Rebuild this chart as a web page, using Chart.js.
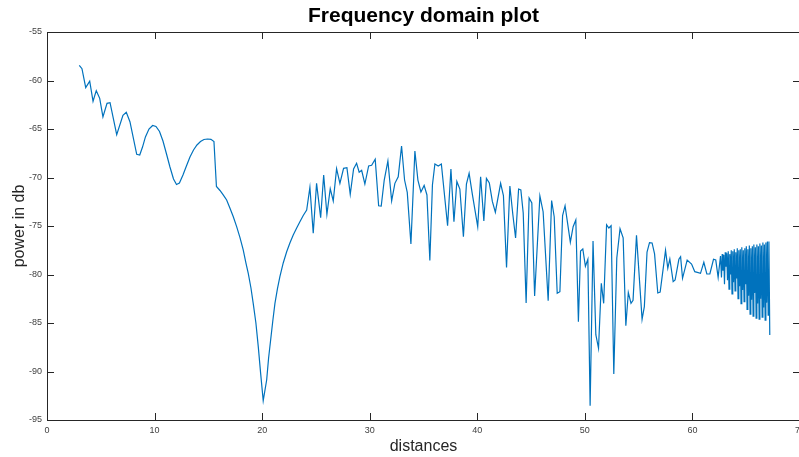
<!DOCTYPE html>
<html><head><meta charset="utf-8">
<script src="https://cdn.jsdelivr.net/npm/chart.js@4.4.0/dist/chart.umd.min.js"></script>
<style>html,body{margin:0;padding:0;overflow:hidden;background:#fff}#wrap{width:802px;height:457px}</style>
</head><body><div id="wrap"><canvas id="c" width="802" height="457"></canvas></div>
<script>
const distances = [
3.00,3.25,3.60,3.97,4.28,4.58,4.90,5.20,5.58,5.86,6.48,7.06,7.37,7.71,8.34,8.62,8.88,9.15,9.48,9.82,
10.13,10.46,10.78,11.11,11.43,11.76,12.04,12.31,12.64,12.96,13.29,13.62,13.94,14.27,14.59,14.92,15.24,15.52,15.75,16.08,
16.38,16.70,17.01,17.31,17.63,17.94,18.24,18.49,18.71,18.96,19.17,19.42,19.64,19.86,20.10,20.42,20.60,20.79,21.00,21.19,
21.42,21.65,21.96,22.28,22.58,22.89,23.21,23.51,23.82,24.14,
24.44,24.75,25.06,25.44,25.72,26.02,26.33,26.61,26.92,27.23,27.57,27.88,28.19,28.50,28.78,29.02,29.25,29.55,29.90,30.18,
30.51,30.83,31.07,31.35,31.69,32.04,32.34,32.65,32.96,33.24,33.49,33.83,34.20,34.48,34.76,35.06,35.32,35.59,35.83,36.06,
36.37,36.66,37.24,37.55,37.83,38.10,38.38,38.71,38.99,39.24,39.55,40.04,40.31,40.61,40.85,41.12,41.40,41.68,42.17,42.43,
42.72,43.03,43.31,43.56,43.84,44.05,44.27,44.54,44.82,45.07,45.33,45.82,46.12,46.59,46.91,47.15,47.43,47.68,47.93,48.16,
48.65,48.91,49.16,49.40,49.60,49.81,50.05,50.28,50.49,50.76,51.02,51.27,51.53,51.75,52.02,52.23,52.44,52.69,52.97,53.27,
53.56,53.81,54.04,54.29,54.48,54.80,55.32,55.53,55.78,56.01,56.25,56.48,56.78,57.00,57.50,57.71,57.90,58.21,58.39,58.74,
58.90,59.08,59.51,59.92,60.22,60.75,61.06,61.34,61.62,61.96,62.17,62.39,62.61,
62.70,62.77,62.84,62.91,62.98,63.05,63.12,63.19,63.26,63.33,63.40,63.47,63.54,63.61,63.68,63.75,63.82,63.89,63.96,64.03,
64.10,64.17,64.24,64.31,64.38,64.45,64.52,64.59,64.66,64.73,64.80,64.87,64.94,65.01,65.08,65.15,65.22,65.29,65.36,65.43,
65.50,65.57,65.64,65.71,65.78,65.85,65.92,65.99,66.06,66.13,66.20,66.27,66.34,66.41,66.48,66.55,66.62,66.69,66.76,66.83,
66.90,66.97,67.04,67.11,67.19
];
const powerDb = [
-58.43,-58.78,-60.74,-60.08,-62.14,-61.05,-61.84,-63.76,-62.35,-62.29,-65.59,-63.59,-63.28,-64.25,-67.61,-67.68,-66.86,-65.82,-65.00,-64.64,
-64.74,-65.26,-66.24,-67.58,-68.92,-70.15,-70.72,-70.57,-69.74,-68.81,-67.89,-67.16,-66.65,-66.29,-66.08,-66.03,-66.06,-66.29,-70.93,-71.34,
-71.80,-72.32,-73.18,-74.02,-75.07,-76.19,-77.47,-78.81,-79.88,-81.39,-82.97,-85.00,-87.44,-90.19,-93.01,-90.88,-88.61,-86.75,-84.69,-82.97,
-81.49,-80.23,-78.81,-77.65,-76.75,-75.93,-75.21,-74.56,-73.92,-73.35,
-71.01,-75.75,-70.60,-74.14,-69.74,-73.79,-71.15,-72.42,-69.09,-70.60,-69.05,-68.99,-71.73,-69.12,-68.54,-69.46,-69.26,-70.67,-68.81,-68.74,
-68.12,-72.91,-72.94,-70.26,-68.30,-72.42,-70.60,-69.92,-66.75,-70.26,-71.53,-76.86,-67.27,-70.26,-71.49,-70.82,-71.80,-78.56,-70.77,-68.61,
-68.81,-68.61,-74.97,-69.12,-74.56,-70.41,-71.19,-76.10,-70.67,-69.57,-71.80,-75.07,-69.92,-74.48,-70.10,-70.57,-72.47,-73.58,-70.60,-71.86,
-79.28,-70.88,-73.87,-76.24,-71.19,-71.29,-73.66,-82.94,-72.11,-72.63,-82.22,-71.91,-73.53,-82.70,-72.37,-74.04,-81.94,-81.77,-73.92,-72.91,
-76.67,-75.07,-74.38,-84.87,-77.58,-77.37,-79.15,-78.43,-93.53,-76.55,-86.21,-87.61,-80.91,-82.97,-74.87,-75.21,-74.97,-90.26,-78.30,-75.28,
-76.22,-85.28,-81.86,-82.97,-82.66,-75.96,-84.62,-83.32,-77.68,-76.72,-76.75,-77.87,-81.91,-81.82,-77.51,-79.36,-78.40,-80.74,-80.57,-78.43,
-78.16,-80.39,-78.51,-78.92,-79.71,-79.88,-78.74,-79.95,-79.95,-78.43,-78.51,-80.29,-78.09,
-80.3,-77.9,-79.6,-78.0,-81.0,-77.7,-79.2,-77.8,-80.6,-77.6,-81.5,-77.9,-80.0,-77.5,-82.0,-77.6,-80.8,-77.4,-81.7,-77.7,
-80.4,-77.3,-82.5,-77.5,-81.2,-77.4,-83.0,-77.2,-81.6,-77.5,-82.8,-77.3,-81.0,-77.1,-83.6,-77.4,-82.2,-77.0,-84.1,-77.3,
-82.6,-77.1,-84.3,-76.9,-81.9,-77.2,-84.5,-76.9,-83.0,-77.1,-84.6,-76.8,-82.5,-77.0,-84.4,-76.7,-83.4,-76.9,-84.7,-76.7,
-82.9,-76.6,-84.2,-76.6,-86.24
];
const xTicks = [0,10,20,30,40,50,60,70];
const yTicks = [-95,-90,-85,-80,-75,-70,-65,-60,-55];
const titleText = 'Frequency domain plot';
const xLabel = 'distances';
const yLabel = 'power in db';

const axisColor = '#262626';
const boxPlugin = {
  id: 'boxTicks',
  afterDatasetsDraw(chart) {
    const {ctx, chartArea: {left, right, top, bottom}, scales: {x, y}} = chart;
    const L = 7;
    ctx.save();
    ctx.strokeStyle = axisColor;
    ctx.lineWidth = 1;
    ctx.beginPath();
    ctx.rect(Math.round(left) + 0.5, Math.round(top) + 0.5, Math.round(right - left), Math.round(bottom - top));
    xTicks.forEach(v => {
      const p = Math.round(x.getPixelForValue(v)) + 0.5;
      ctx.moveTo(p, bottom); ctx.lineTo(p, bottom - L);
      ctx.moveTo(p, top); ctx.lineTo(p, top + L);
    });
    yTicks.forEach(v => {
      const p = Math.round(y.getPixelForValue(v)) + 0.5;
      ctx.moveTo(left, p); ctx.lineTo(left + L, p);
      ctx.moveTo(right, p); ctx.lineTo(right - L, p);
    });
    ctx.stroke();
    ctx.restore();
  }
};

new Chart(document.getElementById('c'), {
  type: 'line',
  data: {
    datasets: [{
      data: distances.map((d, i) => ({x: d, y: powerDb[i]})),
      borderColor: '#0072BD',
      borderWidth: 1.2,
      pointRadius: 0,
      tension: 0,
      fill: false
    }]
  },
  options: {
    responsive: false,
    animation: false,
    devicePixelRatio: 1,
    layout: {padding: {left: 0, right: 2, top: 0, bottom: 0}},
    plugins: {
      legend: {display: false},
      tooltip: {enabled: false},
      title: {
        display: true, text: titleText, color: '#000', fullSize: false,
        font: {family: 'Liberation Sans, Arial, sans-serif', size: 21, weight: 'bold'},
        padding: {top: 4, bottom: 2.8}
      }
    },
    scales: {
      x: {
        type: 'linear', min: 0, max: 70,
        afterBuildTicks(s) { s.ticks = xTicks.map(v => ({value: v})); },
        ticks: {color: '#404040', font: {family: 'Liberation Sans, Arial, sans-serif', size: 9}, padding: 5, maxRotation: 0, autoSkip: false},
        grid: {display: false, drawTicks: false},
        border: {display: false},
        title: {display: true, text: xLabel, color: '#262626', font: {family: 'Liberation Sans, Arial, sans-serif', size: 16}, padding: {top: 0, bottom: 1}},
        afterFit(s) { s.height = 37; s.paddingLeft = 0; s.paddingRight = 0; }
      },
      y: {
        type: 'linear', min: -95, max: -55,
        afterBuildTicks(s) { s.ticks = yTicks.map(v => ({value: v})); },
        ticks: {color: '#404040', font: {family: 'Liberation Sans, Arial, sans-serif', size: 9}, padding: 5, autoSkip: false},
        grid: {display: false, drawTicks: false},
        border: {display: false},
        title: {display: true, text: yLabel, color: '#262626', font: {family: 'Liberation Sans, Arial, sans-serif', size: 16}, padding: {top: 10, bottom: 0}},
        afterFit(s) { s.width = 47; s.paddingTop = 0; s.paddingBottom = 0; }
      }
    }
  },
  plugins: [boxPlugin]
});
</script>
</body></html>
